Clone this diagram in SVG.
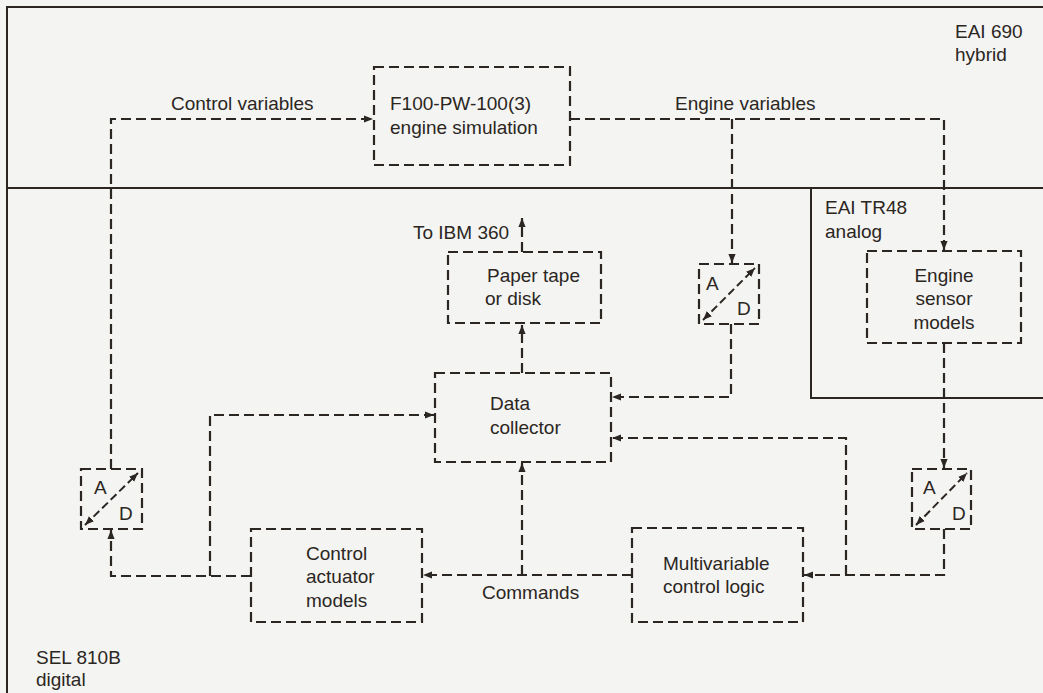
<svg xmlns="http://www.w3.org/2000/svg" width="1043" height="693" viewBox="0 0 1043 693">
<defs>
<marker id="ah" viewBox="0 0 10 10" refX="10" refY="5" markerWidth="9" markerHeight="9" markerUnits="userSpaceOnUse" orient="auto">
<path d="M0,1 L10,5 L0,9 Z" fill="#2b2622" stroke="none"/>
</marker>
<marker id="ahs" viewBox="0 0 10 10" refX="10" refY="5" markerWidth="9" markerHeight="9" markerUnits="userSpaceOnUse" orient="auto-start-reverse">
<path d="M0,1 L10,5 L0,9 Z" fill="#2b2622" stroke="none"/>
</marker>
</defs>
<style>
.bg{fill:#f4f4f2}
.solid{fill:none;stroke:#2b2622;stroke-width:2}
.box{fill:none;stroke:#2b2622;stroke-width:2.2;stroke-dasharray:10,5}
.conn{fill:none;stroke:#2b2622;stroke-width:2.2;stroke-dasharray:10,5}
.arr{marker-end:url(#ah)}
.diag{fill:none;stroke:#2b2622;stroke-width:2;stroke-dasharray:8,4;marker-start:url(#ahs);marker-end:url(#ahs)}
text{font-family:"Liberation Sans",Arial,sans-serif;font-size:19px;fill:#2b2622}
.mid{text-anchor:middle}
</style>
<rect class="bg" x="0" y="0" width="1043" height="693"/>
<g id="frames">
<path class="solid" d="M7,693 V7 H1043"/>
<path class="solid" d="M7,188 H1043"/>
<path class="solid" d="M811,188 V398 H1043"/>
<text x="955" y="38">EAI 690</text>
<text x="955" y="61">hybrid</text>
<text x="825" y="214">EAI TR48</text>
<text x="825" y="238">analog</text>
<text x="36" y="664">SEL 810B</text>
<text x="36" y="686">digital</text>
</g>
<g id="connectors">
<path class="conn arr" d="M111,469 V119 H373"/>
<path class="conn arr" d="M251,576 H111 V530"/>
<path class="conn arr" d="M210,576 V415 H434"/>
<path class="conn arr" d="M570,119 H944 V250"/>
<path class="conn arr" d="M732,119 V263"/>
<path class="conn arr" d="M731,324 V397 H612"/>
<path class="conn arr" d="M522,252 V218"/>
<path class="conn arr" d="M522,373 V325"/>
<path class="conn arr" d="M944,343 V468"/>
<path class="conn arr" d="M944,529 V575 H804"/>
<path class="conn arr" d="M846,575 V438 H612"/>
<path class="conn arr" d="M632,575 H423"/>
<path class="conn arr" d="M522,575 V463"/>
<text x="171" y="110">Control variables</text>
<text x="675" y="110">Engine variables</text>
<text x="413" y="239">To IBM 360</text>
<text x="482" y="599">Commands</text>
</g>
<g id="sim">
<rect class="box" x="374" y="67" width="196" height="98"/>
<text x="390" y="110">F100-PW-100(3)</text>
<text x="390" y="134">engine simulation</text>
</g>
<g id="paper">
<rect class="box" x="448" y="252" width="153" height="71"/>
<text x="487" y="282">Paper tape</text>
<text x="485" y="305">or disk</text>
</g>
<g id="collector">
<rect class="box" x="435" y="373" width="176" height="89"/>
<text x="490" y="410">Data</text>
<text x="490" y="434">collector</text>
</g>
<g id="ad1">
<rect class="box" x="699" y="264" width="60" height="60"/>
<path class="diag" d="M703,320 L755,268"/>
<text x="706" y="290">A</text>
<text x="737" y="315">D</text>
</g>
<g id="sensor">
<rect class="box" x="867" y="251" width="154" height="92"/>
<text class="mid" x="944" y="282">Engine</text>
<text class="mid" x="944" y="305">sensor</text>
<text class="mid" x="944" y="329">models</text>
</g>
<g id="ad2">
<rect class="box" x="81" y="469" width="61" height="60"/>
<path class="diag" d="M85,525 L138,473"/>
<text x="94" y="494">A</text>
<text x="119" y="520">D</text>
</g>
<g id="ad3">
<rect class="box" x="912" y="469" width="59" height="60"/>
<path class="diag" d="M916,525 L967,473"/>
<text x="923" y="494">A</text>
<text x="952" y="520">D</text>
</g>
<g id="actuator">
<rect class="box" x="251" y="529" width="171" height="93"/>
<text x="306" y="560">Control</text>
<text x="306" y="583">actuator</text>
<text x="306" y="607">models</text>
</g>
<g id="mvc">
<rect class="box" x="632" y="528" width="171" height="94"/>
<text x="663" y="570">Multivariable</text>
<text x="663" y="593">control logic</text>
</g>
</svg>
